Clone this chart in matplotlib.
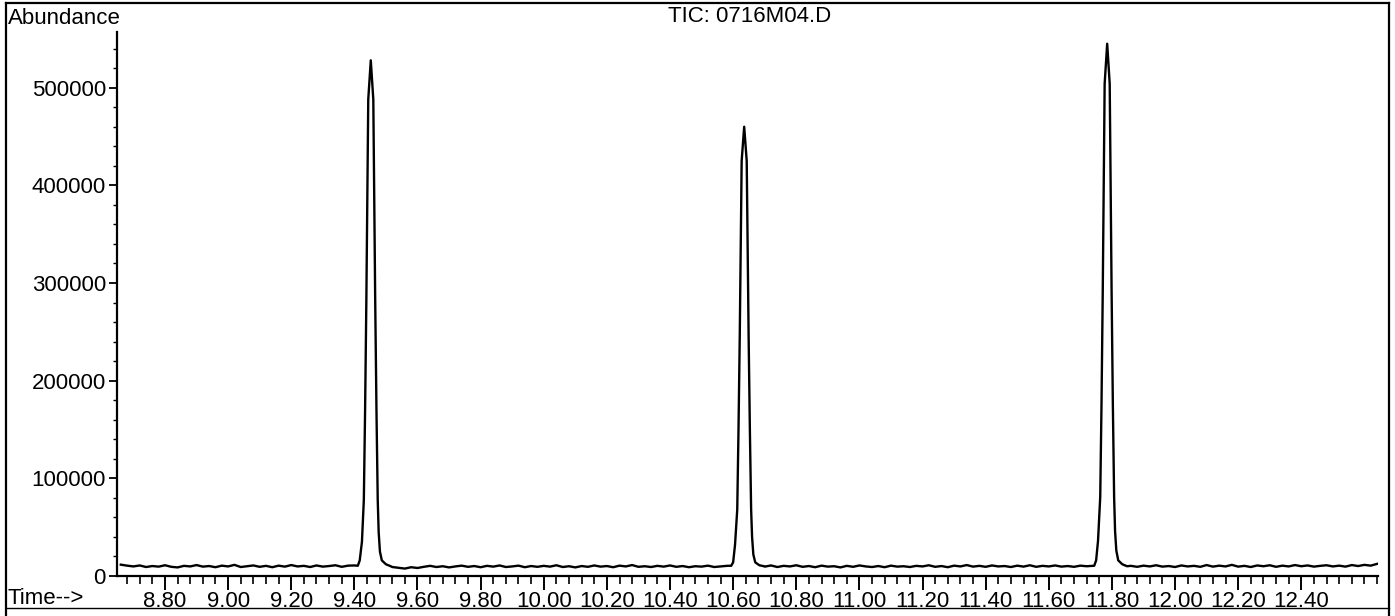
import numpy as np
import matplotlib
matplotlib.use("Agg")
import matplotlib.pyplot as plt
from matplotlib.ticker import MultipleLocator, FixedLocator
from matplotlib.lines import Line2D

plt.rcParams['font.family'] = ['Liberation Sans', 'DejaVu Sans']

# -----------------------------------
# trace: (time in min, abundance)
baseline_a = [(8.66, 11600), (8.68, 10600), (8.70, 9800), (8.72, 10800), (8.74, 9200), (8.76, 10200),
              (8.78, 9600), (8.80, 11000), (8.82, 9400), (8.84, 8800), (8.86, 10400), (8.88, 9800),
              (8.90, 11200), (8.92, 9600), (8.94, 10200), (8.96, 9000), (8.98, 10600), (9.00, 9800),
              (9.02, 11400), (9.04, 9200), (9.06, 10000), (9.08, 10800), (9.10, 9400), (9.12, 10400),
              (9.14, 9000), (9.16, 10600), (9.18, 9600), (9.20, 11200), (9.22, 9800), (9.24, 10400),
              (9.26, 9200), (9.28, 10800), (9.30, 9600), (9.32, 10200), (9.34, 11000), (9.36, 9400),
              (9.38, 10600), (9.40, 10800)]

peak_1 = [(9.411, 10500), (9.417, 16000), (9.424, 35000), (9.430, 78000), (9.434, 170000),
          (9.438, 283000), (9.441, 385000), (9.444, 488000), (9.452, 528000), (9.460, 488000),
          (9.463, 385000), (9.466, 283000), (9.470, 170000), (9.474, 78000), (9.477, 45000),
          (9.481, 25000), (9.487, 16000), (9.500, 12000), (9.515, 10000)]

baseline_b = [(9.52, 9200), (9.54, 8400), (9.56, 7600), (9.58, 9000), (9.60, 8200), (9.62, 9400),
              (9.64, 10400), (9.66, 9200), (9.68, 10000), (9.70, 8800), (9.72, 9800), (9.74, 10600),
              (9.76, 9400), (9.78, 10200), (9.80, 9000), (9.82, 10400), (9.84, 9600), (9.86, 10800),
              (9.88, 9200), (9.90, 9800), (9.92, 10600), (9.94, 9000), (9.96, 10200), (9.98, 9400),
              (10.00, 10400), (10.02, 9600), (10.04, 11000), (10.06, 9200), (10.08, 10000), (10.10, 8800),
              (10.12, 10200), (10.14, 9400), (10.16, 10800), (10.18, 9600), (10.20, 10200), (10.22, 9000),
              (10.24, 10600), (10.26, 9800), (10.28, 11200), (10.30, 9400), (10.32, 10000), (10.34, 9200),
              (10.36, 10400), (10.38, 9600), (10.40, 10800), (10.42, 9400), (10.44, 10200), (10.46, 9000),
              (10.48, 10000), (10.50, 9600), (10.52, 10600), (10.54, 9200), (10.56, 9800), (10.58, 10400)]

peak_2 = [(10.594, 10500), (10.600, 14000), (10.606, 32000), (10.613, 68000), (10.617, 150000),
          (10.621, 247000), (10.624, 336000), (10.627, 425000), (10.635, 460000), (10.643, 425000),
          (10.646, 336000), (10.649, 247000), (10.653, 150000), (10.657, 68000), (10.660, 40000),
          (10.664, 22000), (10.670, 14000), (10.683, 11000), (10.698, 10000)]

baseline_c = [(10.70, 9600), (10.72, 10800), (10.74, 9200), (10.76, 10400), (10.78, 9800), (10.80, 11000),
              (10.82, 9400), (10.84, 10200), (10.86, 9000), (10.88, 10600), (10.90, 9600), (10.92, 10000),
              (10.94, 8800), (10.96, 10400), (10.98, 9400), (11.00, 10800), (11.02, 9800), (11.04, 9200),
              (11.06, 10200), (11.08, 9000), (11.10, 10600), (11.12, 9600), (11.14, 10000), (11.16, 9200),
              (11.18, 10400), (11.20, 9800), (11.22, 11000), (11.24, 9400), (11.26, 10200), (11.28, 9000),
              (11.30, 10600), (11.32, 9800), (11.34, 11200), (11.36, 9600), (11.38, 10400), (11.40, 9400),
              (11.42, 10800), (11.44, 9800), (11.46, 10200), (11.48, 9200), (11.50, 10600), (11.52, 9600),
              (11.54, 11000), (11.56, 9400), (11.58, 10400), (11.60, 9800), (11.62, 10800), (11.64, 9600),
              (11.66, 10200), (11.68, 9400), (11.70, 10600), (11.72, 10000), (11.74, 10400)]

peak_3 = [(11.744, 10500), (11.750, 16000), (11.756, 36000), (11.763, 81000), (11.767, 175000),
          (11.771, 292000), (11.774, 398000), (11.777, 504000), (11.785, 545000), (11.793, 504000),
          (11.796, 398000), (11.799, 292000), (11.803, 175000), (11.807, 81000), (11.810, 46000),
          (11.814, 26000), (11.820, 16000), (11.833, 12000), (11.848, 10000)]

baseline_d = [(11.86, 10400), (11.88, 9400), (11.90, 10600), (11.92, 9800), (11.94, 11000), (11.96, 9600),
              (11.98, 10200), (12.00, 9200), (12.02, 10800), (12.04, 9800), (12.06, 10400), (12.08, 9400),
              (12.10, 11200), (12.12, 9600), (12.14, 10600), (12.16, 9800), (12.18, 11400), (12.20, 9600),
              (12.22, 10400), (12.24, 9200), (12.26, 10800), (12.28, 10000), (12.30, 11000), (12.32, 9400),
              (12.34, 10600), (12.36, 9800), (12.38, 11200), (12.40, 10000), (12.42, 10800), (12.44, 9600),
              (12.46, 10400), (12.48, 11000), (12.50, 9800), (12.52, 10600), (12.54, 9600), (12.56, 11200),
              (12.58, 10200), (12.60, 11400), (12.62, 10600), (12.64, 12400)]

x_tick_values = [8.80, 9.00, 9.20, 9.40, 9.60, 9.80, 10.00, 10.20, 10.40, 10.60, 10.80,
                 11.00, 11.20, 11.40, 11.60, 11.80, 12.00, 12.20, 12.40]
y_tick_values = [0, 100000, 200000, 300000, 400000, 500000]

title = "TIC: 0716M04.D"

# -----------------------------------
trace = sorted(baseline_a + peak_1 + baseline_b + peak_2 + baseline_c + peak_3 + baseline_d)
time = np.array([p[0] for p in trace])
abundance = np.array([p[1] for p in trace])

W, H = 1395, 616
fig = plt.figure(figsize=(W / 100, H / 100), dpi=100)
ax = fig.add_axes([117 / W, 1 - 576 / H, (1378 - 117) / W, (576 - 32) / H])

ax.plot(time, abundance, color="black", lw=1.7)
ax.set_xlim(8.648, 12.643)
ax.set_ylim(0, 557000)

ax.spines['top'].set_visible(False)
ax.spines['right'].set_visible(False)
ax.spines['left'].set_linewidth(1.6)
ax.spines['bottom'].set_linewidth(1.6)

ax.xaxis.set_major_locator(FixedLocator(x_tick_values))
ax.set_xticklabels([f"{v:.2f}" for v in x_tick_values])
ax.xaxis.set_minor_locator(MultipleLocator(0.04))
ax.yaxis.set_major_locator(FixedLocator(y_tick_values))
ax.set_yticklabels([str(v) for v in y_tick_values])
ax.yaxis.set_minor_locator(MultipleLocator(20000))

ax.tick_params(axis='x', which='major', length=10, width=1.4, labelsize=16, pad=1)
ax.tick_params(axis='x', which='minor', length=6, width=1.2)
ax.tick_params(axis='y', which='major', length=6, width=1.3, labelsize=16, pad=2)
ax.tick_params(axis='y', which='minor', length=3, width=1.0)

# -----------------------------------
# header / footer texts and outer frame
fig.text(8 / W, 1 - 18 / H, "Abundance", fontsize=16, va='center', ha='left')
fig.text(750 / W, 1 - 16 / H, title, fontsize=16, va='center', ha='center')
fig.text(8 / W, 1 - 598 / H, "Time-->", fontsize=16, va='center', ha='left')

frame = dict(color="black", lw=1.6, transform=fig.transFigure)
fig.add_artist(Line2D([6 / W, 1389 / W], [1 - 3 / H, 1 - 3 / H], **frame))
fig.add_artist(Line2D([6 / W, 6 / W], [0, 1 - 3 / H], **frame))
fig.add_artist(Line2D([1389 / W, 1389 / W], [0, 1 - 3 / H], **frame))
fig.add_artist(Line2D([6 / W, 1389 / W], [1 - 608 / H, 1 - 608 / H], color="black", lw=1.0,
                      transform=fig.transFigure))

fig.savefig("out.png", dpi=100)
